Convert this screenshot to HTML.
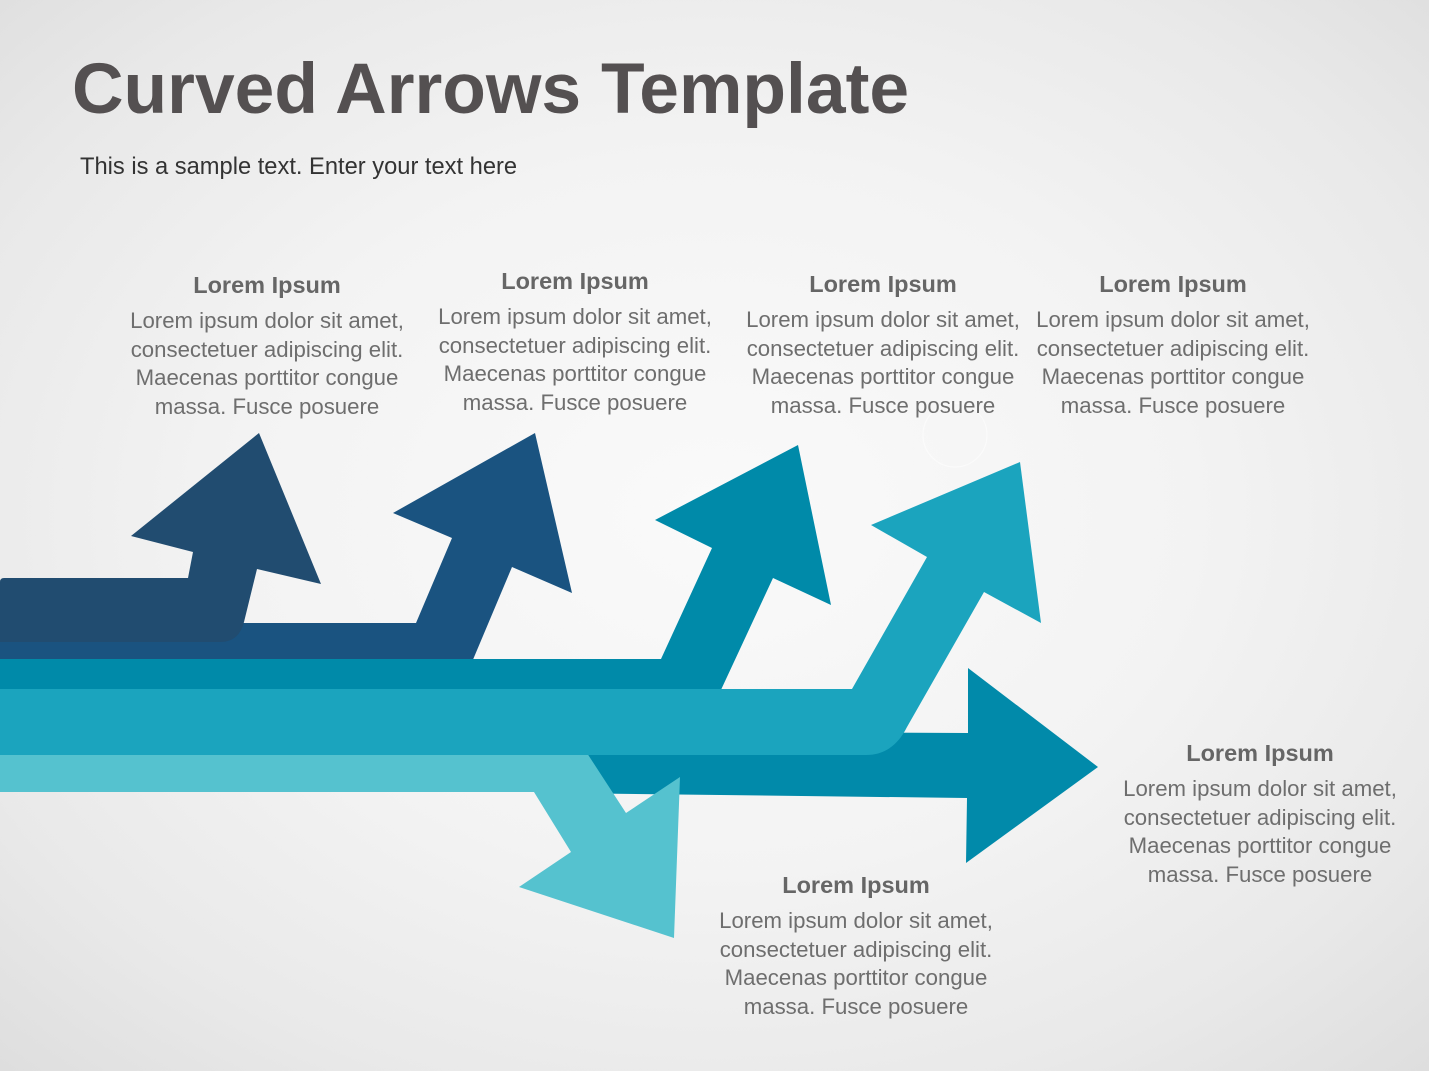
<!DOCTYPE html>
<html>
<head>
<meta charset="utf-8">
<style>
  html,body{margin:0;padding:0;}
  body{width:1429px;height:1071px;overflow:hidden;position:relative;
    background:radial-gradient(ellipse 75% 75% at 50% 48%, #fafafa 0%, #f3f3f3 45%, #e9e9e9 75%, #dcdcdc 100%);
    font-family:"Liberation Sans", Arial, sans-serif;}
  svg{position:absolute;left:0;top:0;}
  .title{position:absolute;left:72px;top:54px;font-size:71.4px;line-height:71px;font-weight:bold;color:#545051;white-space:nowrap;}
  .sub{position:absolute;left:80px;top:155px;font-size:23.7px;line-height:24px;color:#333;white-space:nowrap;}
  .blk{position:absolute;width:360px;text-align:center;white-space:nowrap;}
  .blk .h{font-size:23.5px;line-height:29px;font-weight:bold;color:#666;}
  .blk .b{font-size:22.2px;line-height:28.7px;color:#6e6e6e;margin-top:7px;}
</style>
</head>
<body>
<svg width="1429" height="1071" viewBox="0 0 1429 1071">
  <circle cx="955" cy="435" r="32" fill="none" stroke="#ffffff" stroke-width="1.2" opacity="0.5"/>
  <!-- arrow 5 (right) -->
  <path d="M555,731 L968,733 L968,668 L1098,767 L966,863 L967,798 L555,793 Z" fill="#018aaa"/>
  <!-- arrow 6 (down) -->
  <path d="M0,750 L585,750 L626,813 L680,777 L674,938 L519,887 L571,852 L534,792 L0,792 Z" fill="#55c2cf"/>
  <!-- arrow 2 -->
  <path d="M0,623 L416,623 L452,538 L393,513 L535,433 L572,593 L512,567 L472,662 L0,662 Z" fill="#1a5380"/>
  <!-- arrow 1 -->
  <path d="M0,582 Q0,578 4,578 L188,578 L193,552 L131,536 L259,433 L321,584 L257,569 L244,622 Q239,642 220,642 L0,642 Z" fill="#214c70"/>
  <!-- arrow 3 -->
  <path d="M0,659 L661,659 L712,548 L655,520 L798,445 L831,605 L773,578 L720,692 L0,692 Z" fill="#008aa9"/>
  <!-- arrow 4 -->
  <path d="M0,689 L852,689 L927,557 L871,525 L1020,462 L1041,623 L984,592 L907,727 Q893,755 866,755 L0,755 Z" fill="#1ba4be"/>
</svg>

<div class="title">Curved Arrows Template</div>
<div class="sub">This is a sample text. Enter your text here</div>

<div class="blk" style="left:87px;top:271px;">
  <div class="h">Lorem Ipsum</div>
  <div class="b">Lorem ipsum dolor sit amet,<br>consectetuer adipiscing elit.<br>Maecenas porttitor congue<br>massa. Fusce posuere</div>
</div>
<div class="blk" style="left:395px;top:267px;">
  <div class="h">Lorem Ipsum</div>
  <div class="b">Lorem ipsum dolor sit amet,<br>consectetuer adipiscing elit.<br>Maecenas porttitor congue<br>massa. Fusce posuere</div>
</div>
<div class="blk" style="left:703px;top:270px;">
  <div class="h">Lorem Ipsum</div>
  <div class="b">Lorem ipsum dolor sit amet,<br>consectetuer adipiscing elit.<br>Maecenas porttitor congue<br>massa. Fusce posuere</div>
</div>
<div class="blk" style="left:993px;top:270px;">
  <div class="h">Lorem Ipsum</div>
  <div class="b">Lorem ipsum dolor sit amet,<br>consectetuer adipiscing elit.<br>Maecenas porttitor congue<br>massa. Fusce posuere</div>
</div>
<div class="blk" style="left:1080px;top:739px;">
  <div class="h">Lorem Ipsum</div>
  <div class="b">Lorem ipsum dolor sit amet,<br>consectetuer adipiscing elit.<br>Maecenas porttitor congue<br>massa. Fusce posuere</div>
</div>
<div class="blk" style="left:676px;top:871px;">
  <div class="h">Lorem Ipsum</div>
  <div class="b">Lorem ipsum dolor sit amet,<br>consectetuer adipiscing elit.<br>Maecenas porttitor congue<br>massa. Fusce posuere</div>
</div>
</body>
</html>
